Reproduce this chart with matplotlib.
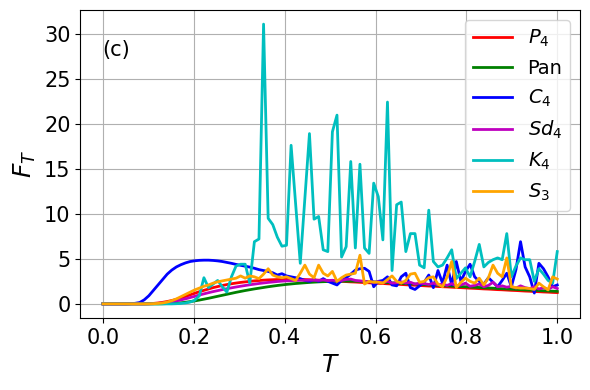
import numpy as np
import matplotlib
matplotlib.use("Agg")
import matplotlib.pyplot as plt

# values, 100 samples on T in [0, 1]
P4 = [0.0] * 10 + [
    0.02, 0.05, 0.1, 0.17, 0.26, 0.37, 0.5, 0.65, 0.82, 1.0,
    1.18, 1.35, 1.5, 1.65, 1.8, 1.92, 2.04, 2.14, 2.23, 2.31,
    2.38, 2.44, 2.5, 2.55, 2.59, 2.63, 2.66, 2.68, 2.7, 2.71,
    2.72, 2.72, 2.72, 2.71, 2.7, 2.68, 2.66, 2.63, 2.61, 2.58,
    2.55, 2.52, 2.5, 2.47, 2.44, 2.42, 2.39, 2.36, 2.34, 2.31,
    2.28, 2.26, 2.23, 2.2, 2.17, 2.15, 2.12, 2.09, 2.07, 2.04,
    2.01, 1.98, 1.96, 1.93, 1.9, 1.88, 1.85, 1.82, 1.8, 1.77,
    1.74, 1.72, 1.69, 1.66, 1.64, 1.61, 1.58, 1.56, 1.53, 1.5,
    1.48, 1.45, 1.42, 1.4, 1.37, 1.35, 1.32, 1.3, 1.27, 1.25]

Pan = [0.0] * 13 + [
    0.01, 0.03, 0.05, 0.08, 0.12, 0.18, 0.25,
    0.33, 0.42, 0.52, 0.62, 0.73, 0.84, 0.95, 1.06, 1.17, 1.28,
    1.38, 1.48, 1.57, 1.66, 1.74, 1.82, 1.9, 1.97, 2.04, 2.1,
    2.16, 2.21, 2.26, 2.3, 2.34, 2.38, 2.41, 2.44, 2.46, 2.48,
    2.5, 2.51, 2.52, 2.52, 2.52, 2.51, 2.5, 2.48, 2.46, 2.44,
    2.41, 2.39, 2.36, 2.33, 2.31, 2.28, 2.25, 2.22, 2.2, 2.17,
    2.14, 2.11, 2.09, 2.06, 2.03, 2.0, 1.98, 1.95, 1.92, 1.9,
    1.87, 1.84, 1.82, 1.79, 1.76, 1.74, 1.71, 1.68, 1.66, 1.63,
    1.6, 1.58, 1.55, 1.53, 1.5, 1.48, 1.45, 1.43, 1.41, 1.39]

C4 = [0.0] * 6 + [
    0.02, 0.06, 0.15, 0.45,
    0.9, 1.5, 2.1, 2.7, 3.3, 3.75, 4.1, 4.35, 4.55, 4.7,
    4.78, 4.83, 4.85, 4.85, 4.82, 4.77, 4.7, 4.6, 4.5, 4.38,
    4.28, 4.18, 4.08, 3.95, 3.8, 3.7, 3.6, 3.45, 3.2, 3.35,
    3.1, 3.0, 2.9, 2.8, 2.6, 2.5, 2.7, 2.5, 2.8, 2.5,
    2.3, 2.1, 2.6, 2.9, 3.3, 3.75, 3.9, 3.95, 3.6, 1.9,
    2.5, 2.6, 3.0, 2.1, 2.0, 3.0, 3.4, 1.8, 1.6, 2.0,
    2.4, 3.2, 1.8, 3.7, 2.3, 4.3, 2.1, 4.7, 2.5, 3.6,
    4.4, 3.0, 2.5, 2.2, 2.9, 2.4, 1.9, 2.6, 3.4, 1.9,
    3.8, 6.9, 4.1, 3.0, 1.2, 4.5, 3.9, 3.0, 1.9, 2.1]

Sd4 = [0.0] * 11 + [
    0.02, 0.05, 0.1, 0.16, 0.24, 0.33, 0.44, 0.56, 0.7,
    0.84, 0.98, 1.11, 1.24, 1.36, 1.47, 1.58, 1.68, 1.78, 1.87,
    1.96, 2.04, 2.12, 2.19, 2.26, 2.32, 2.38, 2.43, 2.48, 2.52,
    2.55, 2.58, 2.6, 2.62, 2.62, 2.63, 2.62, 2.6, 2.65, 2.58,
    2.62, 2.55, 2.6, 2.7, 2.75, 2.6, 2.55, 2.5, 2.45, 2.4,
    2.45, 2.35, 2.5, 2.3, 2.35, 2.45, 2.3, 2.4, 2.2, 2.3,
    2.25, 2.15, 2.3, 2.1, 2.2, 2.05, 2.25, 2.0, 2.1, 2.3,
    1.95, 2.05, 2.2, 1.9, 2.05, 2.4, 1.9, 2.0, 1.85, 1.95,
    1.75, 2.0, 1.8, 1.7, 1.9, 1.65, 1.8, 1.6, 1.9, 1.7]

K4 = [0.0] * 16 + [
    0.02, 0.05, 0.1, 0.2,
    0.4, 0.9, 2.9, 1.8, 2.2, 2.6, 1.9, 1.3, 3.0, 4.2,
    4.4, 4.4, 2.3, 6.9, 7.2, 31.05, 9.5, 8.8, 7.4, 6.4,
    6.5, 17.6, 11.0, 4.5, 11.7, 18.9, 9.4, 9.7, 6.0, 5.8,
    19.1, 20.95, 5.2, 6.35, 15.8, 6.2, 15.5, 6.2, 5.6, 13.4,
    11.9, 7.1, 22.4, 3.7, 11.0, 11.3, 5.8, 7.8, 7.8, 4.3,
    4.0, 10.4, 4.7, 4.1, 4.3, 5.1, 6.0, 2.8, 3.4, 4.0,
    3.0, 4.7, 6.6, 4.1, 4.6, 4.9, 5.1, 4.9, 7.8, 3.0,
    4.2, 5.1, 4.9, 4.9, 2.5, 3.9, 3.3, 2.6, 2.3, 5.8]

S3 = [0.0] * 11 + [
    0.02, 0.05, 0.1, 0.2, 0.35, 0.55, 0.8, 1.05, 1.3,
    1.55, 1.75, 1.95, 2.1, 2.3, 2.45, 2.55, 2.65, 2.75, 2.85,
    3.1, 2.85, 3.1, 3.0, 2.8, 3.3, 3.9, 3.2, 3.0, 2.9,
    3.0, 2.8, 2.6, 3.4, 4.3, 3.3, 2.9, 4.3, 3.4, 3.1,
    3.6, 2.5, 2.9, 3.2, 3.3, 3.4, 5.4, 2.2, 2.5, 2.4,
    2.4, 2.3, 2.7, 3.1, 2.5, 2.3, 2.6, 3.3, 3.4, 2.4,
    2.5, 2.9, 3.0, 2.2, 1.9, 3.0, 4.7, 1.8, 2.4, 2.85,
    2.5, 2.3, 2.85, 2.1, 2.9, 4.3, 3.4, 3.0, 5.1, 1.9,
    1.8, 1.75, 1.75, 1.7, 1.6, 2.3, 1.9, 1.55, 3.0, 2.75]

series = [
    (P4, 'r', r'$P_4$'),
    (Pan, 'g', 'Pan'),
    (C4, 'b', r'$C_4$'),
    (Sd4, 'm', r'$Sd_4$'),
    (K4, 'c', r'$K_4$'),
    (S3, 'orange', r'$S_3$'),
]

T = np.linspace(0, 1, 100)

fig, ax = plt.subplots(figsize=(5.9, 3.9), dpi=100)
fig.subplots_adjust(left=0.136, right=0.983, bottom=0.185, top=0.974)

for vals, col, lab in series:
    ax.plot(T, vals, color=col, lw=2, label=lab)

ax.grid(True)
ax.set_xlabel(r'$T$', fontsize=18)
ax.set_ylabel(r'$F_T$', fontsize=18)
ax.tick_params(labelsize=15)
ax.set_xticks([0.0, 0.2, 0.4, 0.6, 0.8, 1.0])
ax.text(0.045, 0.87, '(c)', transform=ax.transAxes, fontsize=15, va='center')
ax.legend(loc='upper right', fontsize=14)

fig.savefig('out.png', dpi=100)
